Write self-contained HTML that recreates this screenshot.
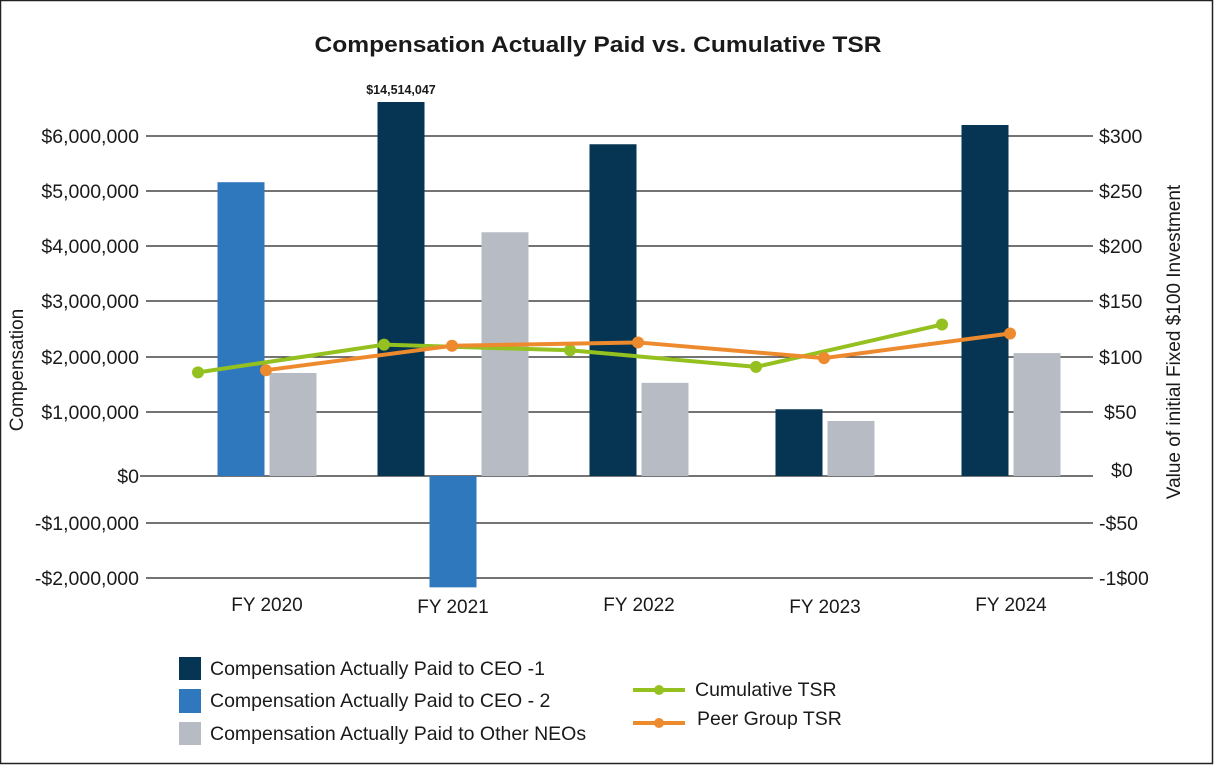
<!DOCTYPE html>
<html><head><meta charset="utf-8"><style>
html,body{margin:0;padding:0;background:#fff;}
svg{display:block;font-family:"Liberation Sans",Arial,sans-serif;}
</style></head><body>
<svg id="chart" width="1226" height="766" viewBox="0 0 1226 766">
<rect x="0.5" y="0.5" width="1212" height="763" fill="#fff" stroke="#222" stroke-width="1.5"/>
<text x="598" y="52" text-anchor="middle" font-size="22" font-weight="bold" fill="#1a1a1a" textLength="567" lengthAdjust="spacingAndGlyphs">Compensation Actually Paid vs. Cumulative TSR</text>
<g id="grid"></g><g id="bars"></g><g id="lines"></g><g id="axes"></g>
<text transform="translate(23,370) rotate(-90)" text-anchor="middle" font-size="19" fill="#1a1a1a">Compensation</text>
<text transform="translate(1180,342) rotate(-90)" text-anchor="middle" font-size="19" fill="#1a1a1a">Value of initial Fixed $100 Investment</text>
<g>
<rect x="179" y="657" width="22" height="23" fill="#053552"/>
<text x="210" y="675" font-size="19.5" fill="#1a1a1a">Compensation Actually Paid to CEO -1</text>
<rect x="179" y="689" width="22" height="24" fill="#2f78bd"/>
<text x="210" y="707" font-size="19.5" fill="#1a1a1a">Compensation Actually Paid to CEO - 2</text>
<rect x="179" y="722" width="22" height="23" fill="#b7bcc4"/>
<text x="210" y="740" font-size="19.5" fill="#1a1a1a">Compensation Actually Paid to Other NEOs</text>
<line x1="633" y1="690" x2="685" y2="690" stroke="#94c11f" stroke-width="4"/>
<circle cx="659" cy="690" r="5" fill="#94c11f"/>
<text x="695" y="696" font-size="19.5" fill="#1a1a1a">Cumulative TSR</text>
<line x1="633" y1="723" x2="685" y2="723" stroke="#ee8a2e" stroke-width="4"/>
<circle cx="659" cy="723" r="5" fill="#ee8a2e"/>
<text x="697" y="725" font-size="19.5" fill="#1a1a1a">Peer Group TSR</text>
</g>
</svg>
<script>
const categories = ["FY 2020","FY 2021","FY 2022","FY 2023","FY 2024"];
const ceo1Values = [null, 14514047, 5850000, 1050000, 6200000];
const ceo2Values = [5160000, -2170000, null, null, null];
const otherNeoValues = [1710000, 4250000, 1530000, 860000, 2070000];
const cumulativeTsr = [86, 111, 106, 91, 129];
const peerTsr = [88, 110, 113, 99, 121];
const leftTickValues = [-2000000,-1000000,0,1000000,2000000,3000000,4000000,5000000,6000000];
const leftTickLabels = ["-$2,000,000","-$1,000,000","$0","$1,000,000","$2,000,000","$3,000,000","$4,000,000","$5,000,000","$6,000,000"];
const rightTickValues = [-100,-50,0,50,100,150,200,250,300];
const rightTickLabels = ["-1$00","-$50","$0","$50","$100","$150","$200","$250","$300"];
const barLabel = "$14,514,047";

const NS="http://www.w3.org/2000/svg";
const tickPix=[578,523,476,412,357,301,246,191,136];
function yLeft(v){
  const t=leftTickValues;
  if(v<=t[0]) return tickPix[0]+(v-t[0])/(t[1]-t[0])*(tickPix[1]-tickPix[0]);
  for(let i=0;i<t.length-1;i++){
    if(v<=t[i+1]) return tickPix[i]+(v-t[i])/(t[i+1]-t[i])*(tickPix[i+1]-tickPix[i]);
  }
  const n=t.length-1;
  return tickPix[n]+(v-t[n])/(t[n]-t[n-1])*(tickPix[n]-tickPix[n-1]);
}
function yRight(v){ return yLeft(v*(leftTickValues[8]/rightTickValues[8])); }
const step=186, x0=232;
function xCenter(i){ return x0+step*i; }
function mk(tag,attrs,parent){const e=document.createElementNS(NS,tag);for(const k in attrs)e.setAttribute(k,attrs[k]);parent.appendChild(e);return e;}

const grid=document.getElementById('grid'), axes=document.getElementById('axes');
leftTickValues.forEach((v,i)=>{
  const y=yLeft(v);
  const l=mk('line',{x1:v===0?140:146,x2:1093,y1:y,y2:y,stroke:'#222','stroke-width':1.3},grid);
  
  
  const t=mk('text',{x:139,y:y+7,'text-anchor':'end','font-size':19.5,fill:'#1a1a1a'},axes);
  t.textContent=leftTickLabels[i];
  
  
});
rightTickValues.forEach((v,i)=>{
  const y=yRight(v);
  const t=mk('text',{x:1099+(v===0?12:(v===50?5:0)),y:y+(v===0?1:7),'font-size':19.5,fill:'#1a1a1a'},axes);
  t.textContent=rightTickLabels[i];
  
  
});
categories.forEach((c,i)=>{
  const t=mk('text',{x:xCenter(i)+35,y:i%2?613:611,'text-anchor':'middle','font-size':19,fill:'#1a1a1a'},axes);
  t.textContent=c;
  
  
});

const bars=document.getElementById('bars');
const y0=yLeft(0), topClip=102, bw=47, gap=5;
const series=[[ceo1Values,'#053552','bar-ceo1'],[ceo2Values,'#2f78bd','bar-ceo2'],[otherNeoValues,'#b7bcc4','bar-other-neos']];
categories.forEach((c,i)=>{
  const present=series.filter(s=>s[0][i]!==null);
  const total=present.length*bw+(present.length-1)*gap;
  let x=xCenter(i)+35-total/2;
  present.forEach(s=>{
    const v=s[0][i];
    let y=Math.max(yLeft(v),topClip);
    const r=mk('rect',{x:x,y:Math.min(y,y0),width:bw,height:Math.abs(y0-y),fill:s[1]},bars);
    
    
    if(yLeft(v)<topClip){
      const t=mk('text',{x:x+bw/2,y:topClip-8,'text-anchor':'middle','font-size':12.5,'font-weight':'bold',fill:'#1a1a1a'},bars);
      t.textContent=barLabel;
      
      
    }
    x+=bw+gap;
  });
});

const lines=document.getElementById('lines');
[[cumulativeTsr,'#94c11f',-34,'cumulative-tsr'],[peerTsr,'#ee8a2e',34,'peer-tsr']].forEach(s=>{
  const pts=s[0].map((v,i)=>[xCenter(i)+s[2],yRight(v)]);
  const p=mk('polyline',{points:pts.map(p=>p.join(',')).join(' '),fill:'none',stroke:s[1],'stroke-width':4},lines);
  
  
  pts.forEach(pt=>{
    const c=mk('circle',{cx:pt[0],cy:pt[1],r:6,fill:s[1]},lines);
    
    
  });
});
</script>
</body></html>
